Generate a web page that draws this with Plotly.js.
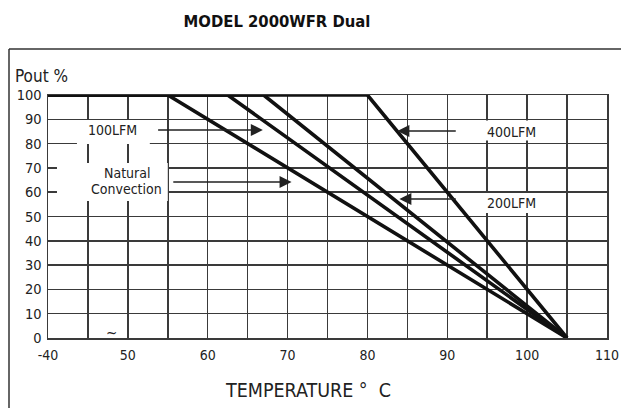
<!DOCTYPE html>
<html>
<head>
<meta charset="utf-8">
<script src="https://cdn.plot.ly/plotly-3.0.1.min.js"></script>
<style>
  html, body { margin: 0; padding: 0; background: #fff; }
  #chart { width: 621px; height: 408px; }
</style>
</head>
<body>
<div id="chart"></div>
<script>
// ---- data ----
const seriesNames = ['Natural Convection', '100LFM', '200LFM', '400LFM'];
const natX = [40, 55, 105];
const natY = [100, 100, 0];
const lfm100X = [40, 62.5, 105];
const lfm100Y = [100, 100, 0];
const lfm200X = [40, 67, 105];
const lfm200Y = [100, 100, 0];
const lfm400X = [40, 80, 105];
const lfm400Y = [100, 100, 0];

const xTickVals = [40, 45, 50, 55, 60, 65, 70, 75, 80, 85, 90, 95, 100, 105, 110];
const xTickText = ['-40', '', '50', '', '60', '', '70', '', '80', '', '90', '', '100', '', '110'];
const yTickVals = [0, 10, 20, 30, 40, 50, 60, 70, 80, 90, 100];
const yTickText = ['0', '10', '20', '30', '40', '50', '60', '70', '80', '90', '100'];

const FONT = "'Liberation Sans Narrow', 'Arial Narrow', 'DejaVu Sans Condensed', sans-serif";
const INK = '#222';
const GRID = '#3a3a3a';

const allX = [natX, lfm100X, lfm200X, lfm400X];
const allY = [natY, lfm100Y, lfm200Y, lfm400Y];
const traces = seriesNames.map((n, i) => ({
  type: 'scatter', mode: 'lines', name: n,
  x: allX[i], y: allY[i],
  line: { color: '#111', width: 3.6 },
  cliponaxis: false, hoverinfo: 'skip'
}));

function box(x0, x1, y0, y1) {
  return { type: 'rect', xref: 'x', yref: 'y', x0, x1, y0, y1,
           fillcolor: '#fff', line: { width: 0 }, layer: 'above' };
}
function label(text, x, y) {
  return { text, x, y, xref: 'x', yref: 'y', showarrow: false,
           font: { family: FONT, size: 14, color: INK } };
}
function arrow(x, y, ax, ay) {
  return { text: '', x, y, ax, ay, xref: 'x', yref: 'y', axref: 'x', ayref: 'y',
           showarrow: true, arrowhead: 2, arrowsize: 1.6, arrowwidth: 1.5,
           arrowcolor: INK };
}

const PW = 559; // plot width in px (621 - 48 - 14)

const layout = {
  width: 621, height: 408,
  margin: { l: 48, r: 14, t: 95, b: 70 },
  paper_bgcolor: '#fff', plot_bgcolor: '#fff',
  showlegend: false,
  font: { family: FONT, color: INK },
  title: {
    text: '<b>MODEL 2000WFR Dual</b>',
    font: { family: FONT, size: 16.5, color: '#111' },
    x: 277 / 621, xanchor: 'center', xref: 'container',
    y: 1 - 21 / 408, yanchor: 'middle', yref: 'container'
  },
  xaxis: {
    range: [40, 110], fixedrange: true,
    tickmode: 'array', tickvals: xTickVals, ticktext: xTickText,
    ticks: '', showgrid: true, gridcolor: GRID, gridwidth: 1.5,
    zeroline: false, showline: true, linecolor: GRID, linewidth: 1.5, mirror: true,
    tickfont: { family: FONT, size: 14, color: INK },
    ticklabelstandoff: 4, ticklabeloverflow: 'allow'
  },
  yaxis: {
    range: [0, 100], fixedrange: true,
    tickmode: 'array', tickvals: yTickVals, ticktext: yTickText,
    ticks: '', showgrid: true, gridcolor: GRID, gridwidth: 1.5,
    zeroline: false, showline: true, linecolor: GRID, linewidth: 1.5, mirror: true,
    tickfont: { family: FONT, size: 14.5, color: INK },
    ticklabelstandoff: 2, ticklabeloverflow: 'allow'
  },
  shapes: [
    // break in the bottom axis between 45 and 50
    { type: 'line', xref: 'x', yref: 'y', x0: 45.2, x1: 49.8, y0: 0, y1: 0,
      line: { color: '#fff', width: 3 }, layer: 'above' },
    // white label boxes
    box(43.625, 52.75, 79.8, 89.7),
    box(41.125, 55.0, 56.4, 72.0),
    box(92.75, 102.5, 81.3, 89.5),
    box(92.75, 102.5, 51.4, 59.7),
    // outer frame (left and top edges)
    { type: 'line', xref: 'paper', yref: 'paper', x0: -39 / PW, x1: -39 / PW,
      y0: 289 / 243, y1: -0.4, line: { color: '#333', width: 1.5 } },
    { type: 'line', xref: 'paper', yref: 'paper', x0: -39 / PW, x1: 1.1,
      y0: 289 / 243, y1: 289 / 243, line: { color: '#333', width: 1.5 } }
  ],
  annotations: [
    label('100LFM', 48.125, 85.6),
    label('Natural', 49.875, 67.9),
    label('Convection', 49.875, 61.3),
    label('400LFM', 98, 84.8),
    label('200LFM', 98, 55.6),
    arrow(66.9, 85.6, 53.6, 85.6),
    arrow(70.5, 64.2, 55.5, 64.2),
    arrow(83.75, 85.2, 91.25, 85.2),
    arrow(84.0, 57.2, 91.25, 57.2),
    { text: '~', x: 48, y: 2.2, xref: 'x', yref: 'y', showarrow: false,
      font: { family: FONT, size: 15, color: INK } },
    { text: 'Pout %', xref: 'paper', yref: 'paper', x: -35 / PW, y: 262 / 243,
      xanchor: 'left', yanchor: 'middle', showarrow: false,
      font: { family: FONT, size: 17, color: INK } },
    { text: 'TEMPERATURE \u00B0  C', xref: 'paper', yref: 'paper', x: 260 / PW, y: -52 / 243,
      xanchor: 'center', yanchor: 'middle', showarrow: false,
      font: { family: FONT, size: 19.5, color: INK } }
  ]
};

Plotly.newPlot('chart', traces, layout, { staticPlot: true, displayModeBar: false });
</script>
</body>
</html>
